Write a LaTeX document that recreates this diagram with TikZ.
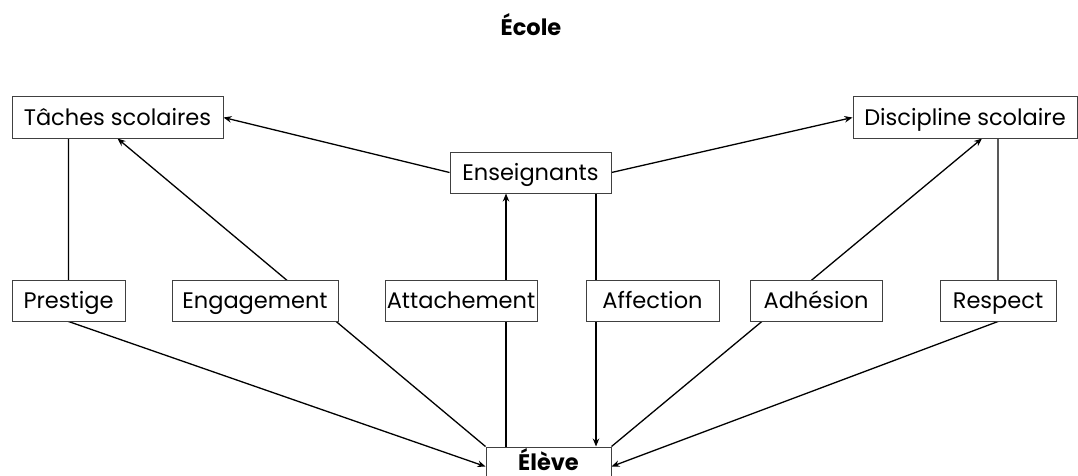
\documentclass[tikz,border=0pt]{standalone}
\usepackage{fontspec}
\setmainfont{Poppins}
\usetikzlibrary{arrows.meta,backgrounds}
\begin{document}
\begin{tikzpicture}[x=1pt,y=-1pt,
  box/.style={draw=black!75, line width=1pt, fill=white,
    font=\fontsize{22.5}{26}\selectfont, inner sep=0pt,
    minimum height=41pt, text height=16pt, text depth=0pt},
  conn/.style={line width=1.3pt, black},
  arr/.style={conn, -{Stealth[length=8pt,width=6.5pt]}}]
\useasboundingbox (0,0) rectangle (1078,476);
% title
\node[font=\fontsize{22.5}{26}\selectfont\bfseries, text height=16pt, text depth=0pt, inner sep=0pt] (ecole) at (531,28) {École};
% top row
\node[box, minimum width=211pt] (taches) at (117.5,117.5) {Tâches scolaires};
\node[box, minimum width=224pt] (discipline) at (965,117.5) {Discipline scolaire};
\node[box, minimum width=161pt] (ens) at (530.5,172.5) {Enseignants};
% middle row
\node[box, minimum width=113pt] (prestige) at (68.5,300.5) {Prestige};
\node[box, minimum width=166pt] (engagement) at (255,300.5) {Engagement};
\node[box, minimum width=152pt] (attachement) at (461,300.5) {Attachement};
\node[box, minimum width=133pt] (affection) at (652.5,300.5) {Affection};
\node[box, minimum width=132pt] (adhesion) at (816,300.5) {Adhésion};
\node[box, minimum width=116pt] (respect) at (998,300.5) {Respect};
% bottom
\node[box, minimum width=125pt, minimum height=31pt, font=\fontsize{22.5}{26}\selectfont\bfseries] (eleve) at (548.5,462.5) {Élève};
% helper coordinates
\coordinate (a1) at (506,0);
\coordinate (a2) at (596,0);
\coordinate (d1) at (982,0);
\begin{pgfonlayer}{background}
\draw[arr] (ens.west) -- (taches.east);
\draw[arr] (ens.east) -- (discipline.west);
\draw[arr] (taches.south -| prestige.center) -- (prestige.south) -- ([yshift=-4pt]eleve.west);
\draw[arr] (eleve.north west) -- (taches.south);
\draw[arr] (eleve.north -| a1) -- (ens.south -| a1);
\draw[arr] (ens.south -| a2) -- (eleve.north -| a2);
\draw[arr] (eleve.north east) -- (discipline.south -| d1);
\draw[arr] (discipline.south -| respect.center) -- (respect.south) -- ([yshift=-4pt]eleve.east);
\end{pgfonlayer}
\draw[draw=black!75, line width=1pt] (eleve.south west) -- ++(0,20) (eleve.south east) -- ++(0,20);
\end{tikzpicture}
\end{document}
